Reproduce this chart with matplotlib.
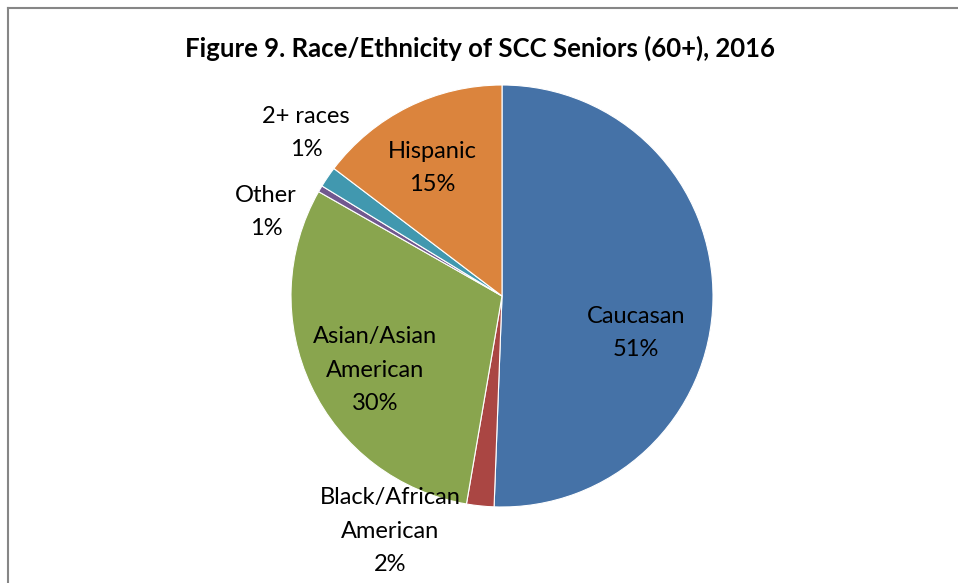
import matplotlib
matplotlib.use('Agg')
import matplotlib.pyplot as plt
from matplotlib.lines import Line2D

# Data (percent of seniors, clockwise from 12 o'clock)
groups = ['Caucasan', 'Black/African\nAmerican', 'Asian/Asian\nAmerican', 'Other', '2+ races', 'Hispanic']
shares = [50.7, 2.1, 30.6, 0.5, 1.6, 14.7]
shown_pct = [51, 2, 30, 1, 1, 15]

colors = ['#4572A7', '#AA4643', '#89A54E', '#71588F', '#4198AF', '#DB843D']
# label centres, in units of the pie radius
label_pos = [(0.635, -0.175), (-0.531, -1.114), (-0.602, -0.351),
             (-1.118, 0.398), (-0.929, 0.773), (-0.332, 0.607)]

W, H, DPI = 958, 583, 100
cx, cy, R = 502, 296, 211  # pie centre / radius in pixels

fig = plt.figure(figsize=(W / DPI, H / DPI), dpi=DPI)
ax = fig.add_axes([0, 0, 1, 1])

ax.pie(shares, colors=colors, startangle=90, counterclock=False, radius=1.0,
       wedgeprops=dict(linewidth=0.8, edgecolor='white'))
# pie() resets the limits, so set them afterwards
ax.set_aspect('auto')
ax.set_xlim(-cx / R, (W - cx) / R)
ax.set_ylim(-(H - cy) / R, cy / R)
ax.axis('off')

for name, pct, (lx, ly) in zip(groups, shown_pct, label_pos):
    ax.text(lx, ly, f"{name}\n{pct}%", ha='center', va='center',
            fontsize=17, family='Lato', linespacing=1.75, color='black')

fig.text(0.501, 1 - 48 / H, 'Figure 9. Race/Ethnicity of SCC Seniors (60+), 2016',
         ha='center', va='center', fontsize=18.5, fontweight='bold', family='Lato')

# chart border (only top and left visible in the crop)
fig.add_artist(Line2D([8 / W, 8 / W], [0, 1 - 8 / H], transform=fig.transFigure,
                      color='#868686', linewidth=1.5))
fig.add_artist(Line2D([8 / W, 1], [1 - 8 / H, 1 - 8 / H], transform=fig.transFigure,
                      color='#868686', linewidth=1.5))

fig.savefig('out.png', dpi=DPI, facecolor='white')
